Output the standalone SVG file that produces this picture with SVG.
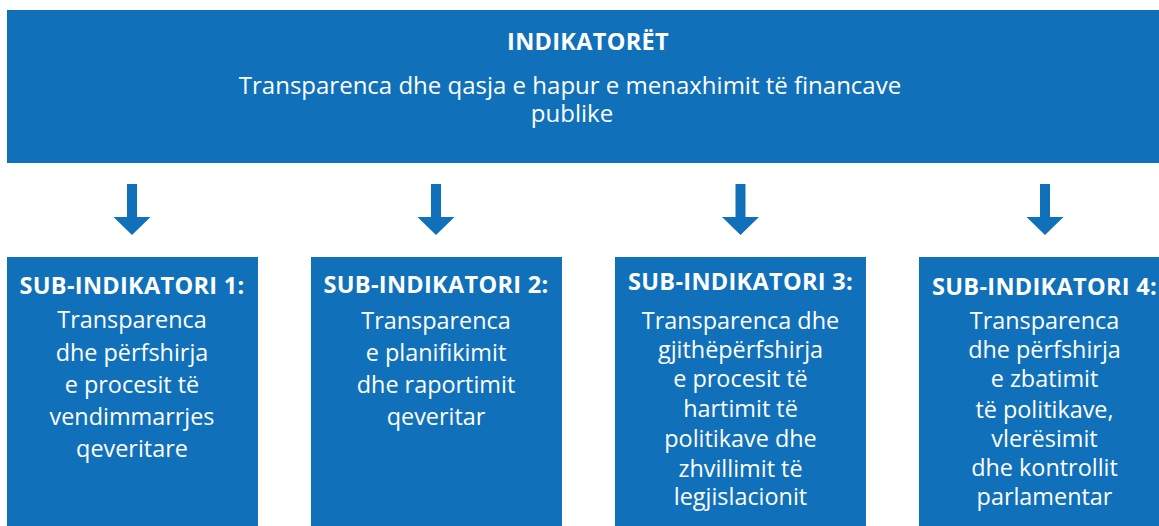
<svg xmlns="http://www.w3.org/2000/svg" width="1159" height="526" viewBox="0 0 1159 526">
<style>
.box{fill:#1071BA}
.arrow{fill:#1071BA}
text{fill:#FFFFFF;font-family:"Open Sans","Liberation Sans",sans-serif;text-anchor:middle}
.ttl{font-weight:700;font-size:23.5px;letter-spacing:0.3px}
.sub{font-size:24px}
.body{font-size:23.4px}
</style>
<rect width="1159" height="526" fill="#FFFFFF"/>
<g id="indikatoret">
<rect class="box" x="7" y="10" width="1160" height="153"/>
<text class="ttl" x="588" y="49.5">INDIKATORËT</text>
<text class="sub" x="570" y="94">Transparenca dhe qasja e hapur e menaxhimit të financave</text>
<text class="sub" x="572" y="122">publike</text>
</g>
<g id="connectors">
<path class="arrow" d="M127,184H137V217H150.5L132,235L113.5,217H127Z"/>
<path class="arrow" d="M431,184H441V217H454.5L436,235L417.5,217H431Z"/>
<path class="arrow" d="M735.5,184H745.5V217H759L740.5,235L722,217H735.5Z"/>
<path class="arrow" d="M1040,184H1050V217H1063.5L1045,235L1026.5,217H1040Z"/>
</g>
<g id="sub1">
<rect class="box" x="7" y="257" width="251" height="280"/>
<text class="ttl" x="132" y="294">SUB-INDIKATORI 1:</text>
<text class="body" x="132" y="328.3">Transparenca</text>
<text class="body" x="132" y="361">dhe përfshirja</text>
<text class="body" x="132" y="392.7">e procesit të</text>
<text class="body" x="132" y="425">vendimmarrjes</text>
<text class="body" x="132" y="456.7">qeveritare</text>
</g>
<g id="sub2">
<rect class="box" x="311" y="257" width="251" height="280"/>
<text class="ttl" x="436" y="293.3">SUB-INDIKATORI 2:</text>
<text class="body" x="436" y="329">Transparenca</text>
<text class="body" x="436" y="361">e planifikimit</text>
<text class="body" x="436" y="392.7">dhe raportimit</text>
<text class="body" x="436" y="425">qeveritar</text>
</g>
<g id="sub3">
<rect class="box" x="615" y="257" width="251" height="280"/>
<text class="ttl" x="740.5" y="290">SUB-INDIKATORI 3:</text>
<text class="body" x="740.5" y="329.3">Transparenca dhe</text>
<text class="body" x="740.5" y="358.3">gjithëpërfshirja</text>
<text class="body" x="740.5" y="387.3">e procesit të</text>
<text class="body" x="740.5" y="416.7">hartimit të</text>
<text class="body" x="740.5" y="447.3">politikave dhe</text>
<text class="body" x="740.5" y="476.5">zhvillimit të</text>
<text class="body" x="740.5" y="505">legjislacionit</text>
</g>
<g id="sub4">
<rect class="box" x="919" y="257" width="251" height="280"/>
<text class="ttl" x="1044.5" y="295">SUB-INDIKATORI 4:</text>
<text class="body" x="1044.5" y="329.3">Transparenca</text>
<text class="body" x="1044.5" y="358.3">dhe përfshirja</text>
<text class="body" x="1044.5" y="387.3">e zbatimit</text>
<text class="body" x="1044.5" y="418.3">të politikave,</text>
<text class="body" x="1044.5" y="447.3">vlerësimit</text>
<text class="body" x="1044.5" y="476">dhe kontrollit</text>
<text class="body" x="1044.5" y="505">parlamentar</text>
</g>
</svg>
